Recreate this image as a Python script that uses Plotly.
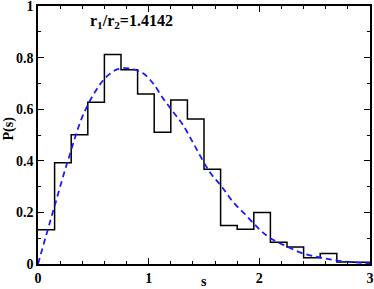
import plotly.graph_objects as go

# histogram of level spacings (bin width 0.15)
bin_edges = [0.0, 0.15, 0.3, 0.45, 0.6, 0.75, 0.9, 1.05, 1.2, 1.35, 1.5,
             1.65, 1.8, 1.95, 2.1, 2.25, 2.4, 2.55, 2.7, 2.85, 3.0]
hist_vals = [0.133, 0.392, 0.501, 0.627, 0.812, 0.753, 0.659, 0.511, 0.636, 0.562,
             0.367, 0.149, 0.135, 0.200, 0.084, 0.066, 0.024, 0.041, 0.008, 0.007]

# dashed reference curve
curve_s = [0.0, 0.14, 0.27, 0.41, 0.55, 0.63, 0.72, 0.83, 0.95, 1.04, 1.13, 1.22,
           1.31, 1.42, 1.55, 1.66, 1.76, 1.89, 2.0, 2.1, 2.25, 2.4, 2.58, 2.76, 3.0]
curve_p = [0.0, 0.21, 0.40, 0.58, 0.69, 0.73, 0.755, 0.758, 0.739, 0.70, 0.642, 0.59,
           0.539, 0.455, 0.358, 0.30, 0.242, 0.184, 0.135, 0.10, 0.068, 0.04, 0.023, 0.01, 0.003]

x_ticks = [0, 1, 2, 3]
y_ticks = [0, 0.2, 0.4, 0.6, 0.8, 1]
y_labels = ['0', '0.2', '0.4', '0.6', '0.8', '1']

fig = go.Figure()
fig.add_trace(go.Scatter(x=bin_edges, y=hist_vals + [hist_vals[-1]], mode='lines',
                         line=dict(shape='hv', color='black', width=1.5)))
fig.add_trace(go.Scatter(x=curve_s, y=curve_p, mode='lines',
                         line=dict(shape='spline', color='#1a1aff', width=1.8, dash='6px,4px')))

font = dict(family='Liberation Serif', size=14, color='black')
axis = dict(showgrid=False, zeroline=False, showline=True, linecolor='black', linewidth=1.5,
            mirror='allticks', ticks='inside', ticklen=6, tickwidth=1, tickcolor='black',
            tickfont=font, automargin=False, ticklabeloverflow='allow')
fig.update_xaxes(range=[0, 3], tickvals=x_ticks, ticktext=['<b>%d</b>' % v for v in x_ticks],
                 minor=dict(dtick=0.2, ticks='inside', ticklen=3, tickcolor='black'), **axis)
fig.update_yaxes(range=[0, 1], tickvals=y_ticks, ticktext=['<b>%s</b>' % t for t in y_labels],
                 minor=dict(dtick=0.1, ticks='inside', ticklen=3, tickcolor='black'), **axis)

fig.add_annotation(x=0.15, y=0.94, xref='paper', yref='paper', xanchor='left', yanchor='middle',
                   text='<b>r<sub>1</sub>/r<sub>2</sub>=1.4142</b>', showarrow=False,
                   font=dict(family='Liberation Serif', size=16, color='black'))
fig.add_annotation(x=0.5, y=-0.068, xref='paper', yref='paper', xanchor='center', yanchor='middle',
                   text='<b>s</b>', showarrow=False, font=font)
fig.add_annotation(x=-0.086, y=0.527, xref='paper', yref='paper', xanchor='center', yanchor='middle',
                   textangle=-90, text='<b>P(s)</b>', showarrow=False, font=font)

fig.update_layout(width=374, height=289, margin=dict(l=38, r=4, t=6, b=25),
                  showlegend=False, plot_bgcolor='white', paper_bgcolor='white')

# page body has an 8px default margin; drop it so the figure sits at the corner
fig.write_html("out.html", config={'displayModeBar': False},
               post_script="document.body.style.margin='0';")
